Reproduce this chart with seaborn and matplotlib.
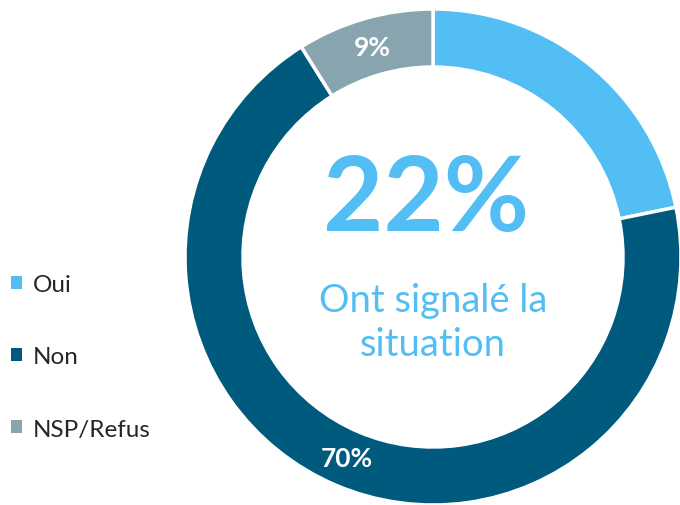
import numpy as np
import seaborn as sns
import matplotlib.pyplot as plt
from matplotlib.patches import Patch

# Data
categories = ["Oui", "Non", "NSP/Refus"]
values = [22, 70, 9]
shown_labels = ["", "70%", "9%"]
headline = "22%"
subtitle = "Ont signalé la\nsituation"

sns.set_theme(style="white")
plt.rcParams['font.family'] = ['Lato', 'DejaVu Sans']

colors = ["#53BEF3", "#005A7E", "#88A5AF"]

fig = plt.figure(figsize=(6.8, 5.06), dpi=100)
W, H = 680, 506
cx, cy, r = 433, 258, 248
ax = fig.add_axes([(cx - r) / W, (H - cy - r) / H, 2 * r / W, 2 * r / H])

ring = 58 / 248
wedges, _ = ax.pie(
    values,
    colors=colors,
    startangle=90,
    counterclock=False,
    radius=1,
    wedgeprops=dict(width=ring, edgecolor="white", linewidth=2.5),
)
ax.set_xlim(-1, 1)
ax.set_ylim(-1, 1)
ax.axis("off")
for w in wedges:
    w.set_clip_on(False)

# Labels on the ring
for w, lab in zip(wedges, shown_labels):
    if not lab:
        continue
    ang = np.deg2rad((w.theta1 + w.theta2) / 2)
    rr = 1 - ring / 2
    ax.text(rr * np.cos(ang), rr * np.sin(ang), lab, ha="center", va="center",
            color="white", fontsize=19, fontweight="bold")

# Center text
ax.text(-0.026, 0.228, headline, ha="center", va="center", color=colors[0],
        fontsize=75, fontweight="bold")
ax.text(0.0, -0.262, subtitle, ha="center", va="center", color=colors[0],
        fontsize=27.5, linespacing=1.25)

# Legend
handles = [Patch(facecolor=c, edgecolor="none") for c in colors]
fig.legend(handles, categories, loc="center left", bbox_to_anchor=(-0.012, 1 - 358 / H),
           frameon=False, fontsize=17.5, labelspacing=2.1, handlelength=0.45,
           handleheight=0.45, handletextpad=0.45, borderpad=0.3)

fig.savefig("out.png", dpi=100)
